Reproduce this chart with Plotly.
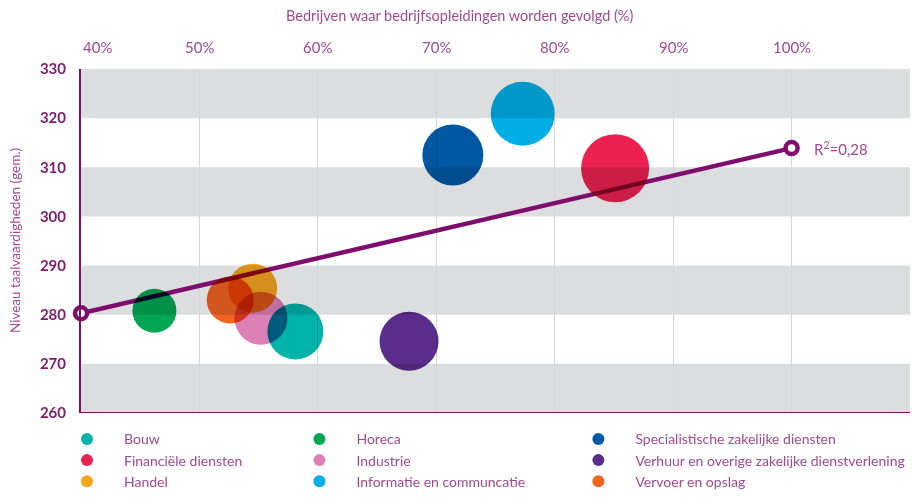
import plotly.graph_objects as go

# Data
sectoren = ['Bouw', 'Financiële diensten', 'Handel',
            'Horeca', 'Industrie', 'Informatie en communcatie',
            'Specialistische zakelijke diensten',
            'Verhuur en overige zakelijke dienstverlening', 'Vervoer en opslag']
opleiding_pct = [58.1, 85.1, 54.5, 46.2, 55.2, 77.3, 71.4, 67.7, 52.6]
taalniveau = [276.6, 309.8, 285.4, 280.8, 279.3, 320.9, 312.5, 274.6, 283.0]
omvang = [56, 68, 49, 44, 53, 64, 61, 59, 47]

trend_x = [40, 100]
trend_y = [280.3, 313.9]
r2_label = 'R<sup>2</sup>=0,28'

x_ticks = [40, 50, 60, 70, 80, 90, 100]
x_ticklabels = ['40%', '50%', '60%', '70%', '80%', '90%', '100%']
y_ticks = [260, 270, 280, 290, 300, 310, 320, 330]

kleuren = ['#00b3a9', '#ec2150', '#f7a51f', '#00a651', '#dc80b6',
           '#00aee6', '#0058a3', '#5a2d8c', '#f36423']
kolom = ['legend', 'legend', 'legend', 'legend2', 'legend2', 'legend2',
         'legend3', 'legend3', 'legend3']

paars = '#7f0d6e'
lichtpaars = '#9e4a93'
grijs = '#dcdddf'
font = 'Lato'

fig = go.Figure()

# trendlijn
fig.add_trace(go.Scatter(x=trend_x, y=trend_y, mode='lines+markers',
                         line=dict(color=paars, width=4.5),
                         marker=dict(size=12, color='white',
                                     line=dict(color=paars, width=4.5)),
                         cliponaxis=False, showlegend=False, hoverinfo='skip'))

# bubbels
for i, s in enumerate(sectoren):
    fig.add_trace(go.Scatter(x=[opleiding_pct[i]], y=[taalniveau[i]], mode='markers',
                             name=s, legend=kolom[i],
                             marker=dict(size=[omvang[i]], sizemode='diameter', opacity=1,
                                         color=kleuren[i], line=dict(width=0))))

# grijze banden
for y0 in y_ticks[::2]:
    fig.add_shape(type='rect', xref='paper', x0=0, x1=1, y0=y0, y1=y0 + 10,
                  fillcolor=grijs, line=dict(width=0), layer='between')
fig.add_shape(type='line', xref='paper', x0=0, x1=1, y0=260, y1=260,
              line=dict(color=paars, width=2))

annotations = []
for v, t in zip(x_ticks, x_ticklabels):
    annotations.append(dict(x=v, y=1, xref='x', yref='paper', text=t, showarrow=False,
                            xanchor='left' if v == 40 else 'center', yanchor='middle',
                            yshift=22, font=dict(family=font, size=15, color=lichtpaars)))
annotations.append(dict(x=0.457, y=1, xref='paper', yref='paper', yshift=54,
                        text='Bedrijven waar bedrijfsopleidingen worden gevolgd (%)',
                        showarrow=False, xanchor='center', yanchor='middle',
                        font=dict(family=font, size=14.5, color=lichtpaars)))
annotations.append(dict(x=-0.0796, y=0.5, xref='paper', yref='paper', textangle=-90,
                        text='Niveau taalvaardigheden (gem.)', showarrow=False,
                        xanchor='center', yanchor='middle',
                        font=dict(family=font, size=13.5, color=lichtpaars)))
annotations.append(dict(x=trend_x[-1], y=trend_y[-1], xref='x', yref='y', text=r2_label,
                        showarrow=False, xanchor='left', xshift=20,
                        font=dict(family=font, size=15, color=lichtpaars)))

leg = dict(orientation='v', yanchor='top', y=-0.03, bgcolor='rgba(0,0,0,0)',
           itemwidth=64, itemsizing='constant',
           font=dict(family=font, size=14, color=lichtpaars))

fig.update_layout(
    width=912, height=504,
    margin=dict(l=81, r=2, t=69, b=91, autoexpand=False),
    paper_bgcolor='white', plot_bgcolor='white',
    font=dict(family=font, color=lichtpaars),
    xaxis=dict(range=[40, 110], side='top', tickvals=x_ticks, showticklabels=False,
               showgrid=True, gridcolor='#d6d6d6', gridwidth=1, zeroline=False,
               showline=False, ticks=''),
    yaxis=dict(range=[260, 330], tickvals=y_ticks, showgrid=False, zeroline=False,
               showline=True, linecolor=paars, linewidth=2, ticks='',
               ticklabelstandoff=10,
               tickfont=dict(family=font, size=15, color='#7b1c6f', weight='bold')),
    legend=dict(leg, x=-0.0374),
    legend2=dict(leg, x=0.243),
    legend3=dict(leg, x=0.5795),
    annotations=annotations,
    showlegend=True,
)

# geen paginamarge; bubbels vermenigvuldigen met de achtergrond (multiply)
post = """
document.body.style.margin = '0';
var gd = document.getElementById('{plot_id}');
function mb(){
  gd.querySelectorAll('.scatterlayer .trace').forEach(function(t, i){
    if(i > 0){ t.style.mixBlendMode = 'multiply'; }
  });
}
mb();
gd.on('plotly_afterplot', mb);
"""

fig.write_html("out.html", post_script=post, config={'displayModeBar': False})
